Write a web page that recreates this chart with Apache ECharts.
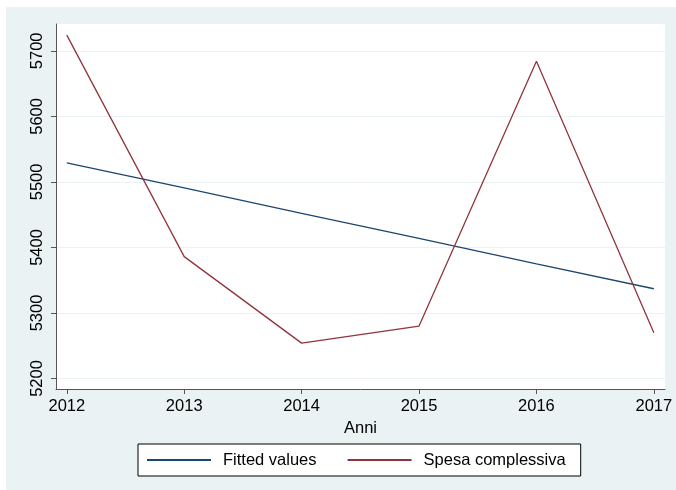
<!DOCTYPE html>
<html>
<head>
<meta charset="utf-8">
<script src="https://cdn.jsdelivr.net/npm/echarts@6/dist/echarts.min.js"></script>
<style>
  html, body { margin: 0; padding: 0; background: #ffffff; }
  #frame { position: absolute; left: 6px; top: 7px; width: 670px; height: 483px; background: #eaf2f3; }
  #chart { position: absolute; left: 0; top: 0; width: 676px; height: 490px; }
</style>
</head>
<body>
<div id="frame"></div>
<div id="chart"></div>
<script>
// Annual total spending with its linear trend
const years = [2012, 2013, 2014, 2015, 2016, 2017];
const spesaComplessiva = [5724, 5386, 5254, 5280, 5684, 5270];
const fittedValues = [5529, 5491, 5452, 5414, 5375, 5337];
const yTicks = [5200, 5300, 5400, 5500, 5600, 5700];
const xTicks = [2012, 2013, 2014, 2015, 2016, 2017];

const FONT = '"Liberation Sans", Arial, Helvetica, sans-serif';
const AXIS_COLOR = '#555555';
const GRID_COLOR = '#eaf2f3';

const pairs = vals => years.map((y, i) => [y, vals[i]]);

const chart = echarts.init(document.getElementById('chart'), null, { renderer: 'canvas' });
chart.setOption({
  backgroundColor: 'transparent',
  animation: false,
  grid: {
    left: 56, right: 11, top: 24, bottom: 101,
    show: true, backgroundColor: '#ffffff', borderWidth: 0
  },
  xAxis: {
    type: 'value',
    min: 2011.908, max: 2017.095,
    name: 'Anni',
    nameLocation: 'middle',
    nameGap: 28,
    nameTextStyle: { fontFamily: FONT, fontSize: 16.5, color: '#000' },
    axisLine: { show: true, lineStyle: { color: AXIS_COLOR, width: 1 } },
    axisTick: { show: true, length: 5, lineStyle: { color: AXIS_COLOR }, customValues: xTicks },
    axisLabel: {
      fontFamily: FONT, fontSize: 16.5, color: '#000', margin: 9,
      customValues: xTicks, formatter: v => String(v)
    },
    splitLine: { show: false }
  },
  yAxis: {
    type: 'value',
    min: 5184, max: 5741,
    axisLine: { show: true, lineStyle: { color: AXIS_COLOR, width: 1 } },
    axisTick: { show: true, length: 5, lineStyle: { color: AXIS_COLOR }, customValues: yTicks },
    axisLabel: {
      fontFamily: FONT, fontSize: 16.5, color: '#000', margin: 10, rotate: 90,
      customValues: yTicks, formatter: v => String(v)
    },
    splitLine: { show: true, lineStyle: { color: GRID_COLOR, width: 1 } }
  },
  legend: {
    left: 138, top: 444,
    orient: 'horizontal',
    padding: [7, 15, 7, 8],
    itemGap: 30,
    itemWidth: 64,
    itemHeight: 14,
    itemStyle: { opacity: 0, color: 'transparent', borderWidth: 0 },
    backgroundColor: '#ffffff',
    borderColor: '#000000',
    borderWidth: 1,
    borderRadius: 0,
    textStyle: { fontFamily: FONT, fontSize: 16.5, color: '#000', lineHeight: 18, padding: [0, 0, 0, 7] },
    data: ['Fitted values', 'Spesa complessiva']
  },
  series: [
    {
      name: 'Fitted values',
      type: 'line',
      data: pairs(fittedValues),
      symbol: 'none',
      lineStyle: { color: '#1a476f', width: 1.3 },
      itemStyle: { color: '#1a476f' }
    },
    {
      name: 'Spesa complessiva',
      type: 'line',
      data: pairs(spesaComplessiva),
      symbol: 'none',
      lineStyle: { color: '#90353b', width: 1.3 },
      itemStyle: { color: '#90353b' }
    }
  ]
});
</script>
</body>
</html>
